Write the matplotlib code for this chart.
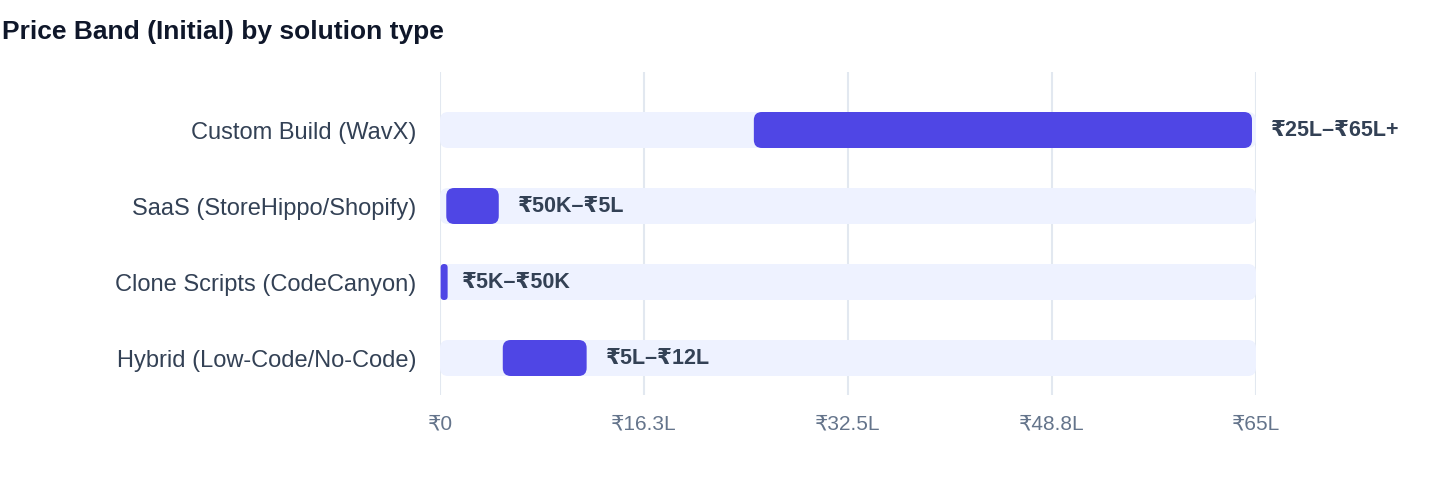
import matplotlib
matplotlib.use("Agg")
import matplotlib.pyplot as plt
from matplotlib.patches import FancyBboxPatch

plt.rcParams['font.family'] = ['Liberation Sans', 'DejaVu Sans']

# data (values in lakh rupees)
categories = ["Custom Build (WavX)", "SaaS (StoreHippo/Shopify)",
              "Clone Scripts (CodeCanyon)", "Hybrid (Low-Code/No-Code)"]
low = [25, 0.5, 0.05, 5]
high = [65, 5, 0.5, 12]
range_labels = ["₹25L–₹65L+", "₹50K–₹5L", "₹5K–₹50K", "₹5L–₹12L"]
tick_vals = [0, 16.25, 32.5, 48.75, 65]
tick_labels = ["₹0", "₹16.3L", "₹32.5L", "₹48.8L", "₹65L"]
x_max = 65

bar_color = "#4f46e5"
track_color = "#eef2ff"
grid_color = "#e2e8f0"

fig = plt.figure(figsize=(14.4, 4.84), dpi=100)
ax = fig.add_axes([440 / 1440, 1 - 395 / 484, 816 / 1440, 323 / 484])
ax.set_xlim(0, x_max)
ax.set_ylim(3 + 37 / 76, -58 / 76)

# pixel scales for rounding corners
px_x = 816 / x_max
px_y = 76.0
aspect = px_x / px_y
bar_h = 36 / 76
radius_px = 8


def rounded_bar(x0, x1, y, color, z):
    w = x1 - x0
    w_px = w * px_x
    r = min(radius_px, w_px / 2) / px_x
    p = FancyBboxPatch((x0, y - bar_h / 2), w, bar_h,
                       boxstyle=f"round,pad=0,rounding_size={r}",
                       mutation_aspect=aspect, fc=color, ec="none", zorder=z)
    ax.add_patch(p)


for i, cat in enumerate(categories):
    rounded_bar(0, x_max, i, track_color, 2)
    x0 = low[i]
    x1 = max(high[i] - 4 / px_x, low[i] + 7 / px_x)
    rounded_bar(x0, x1, i, bar_color, 3)
    ax.annotate(range_labels[i], (high[i], i), xytext=(11, 0), textcoords="offset points",
                va="center", ha="left", fontsize=15.5, fontweight="bold",
                color="#334155", zorder=4, annotation_clip=False)

ax.set_yticks(range(len(categories)))
ax.set_yticklabels(categories, fontsize=17, color="#334155")
ax.set_xticks(tick_vals)
ax.set_xticklabels(tick_labels, fontsize=15, color="#64748b")
ax.tick_params(axis="both", length=0)
ax.tick_params(axis="y", pad=17)
ax.tick_params(axis="x", pad=14)
for v in tick_vals:
    ax.axvline(v, color=grid_color, lw=1.5, zorder=1)
for s in ax.spines.values():
    s.set_visible(False)

fig.text(2 / 1440, 1 - 32 / 484, "Price Band (Initial) by solution type",
         fontsize=19, fontweight="bold", color="#0f172a", ha="left", va="center")

fig.savefig("out.png", dpi=100)
